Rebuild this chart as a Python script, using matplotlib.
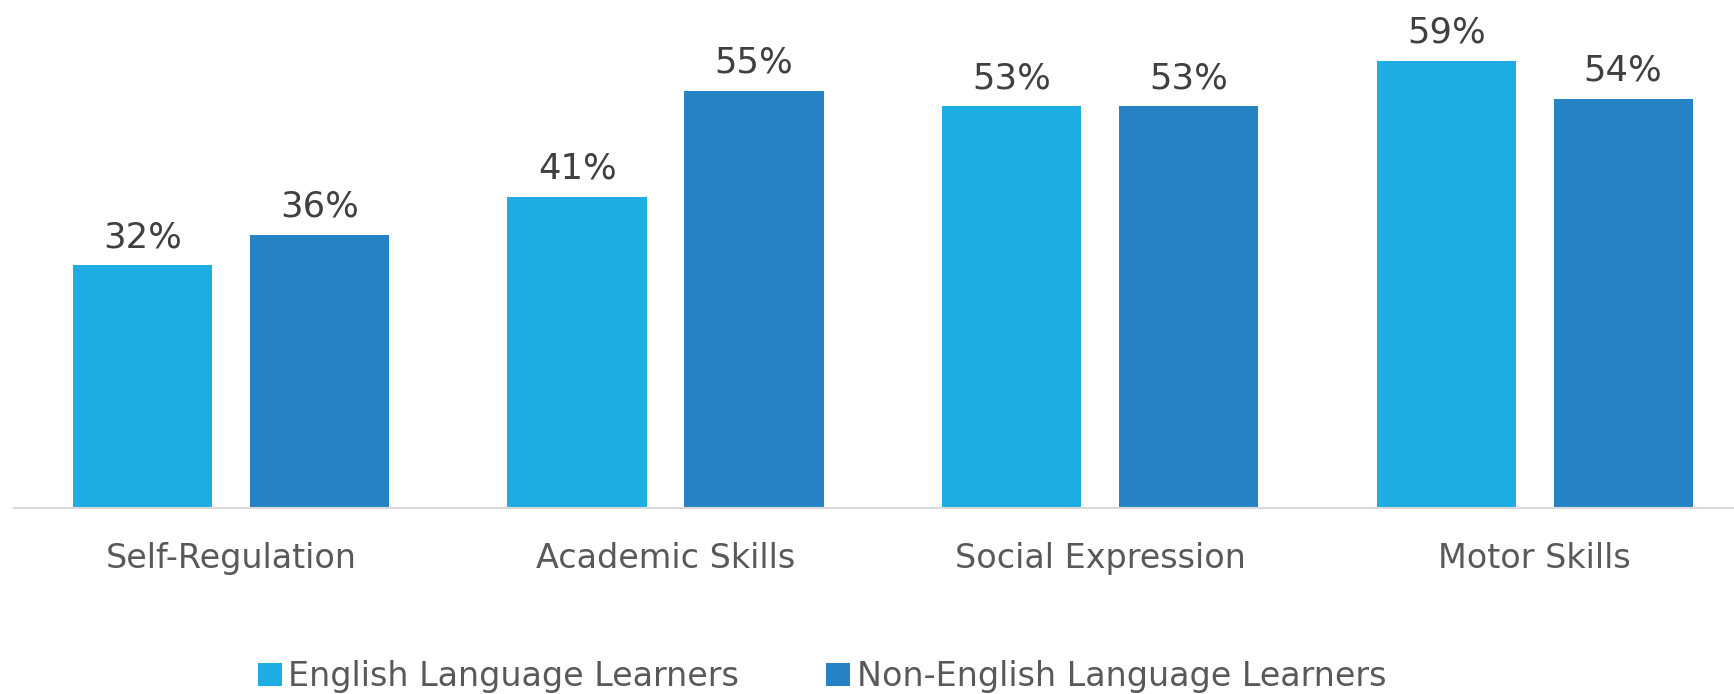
import matplotlib.pyplot as plt
import numpy as np

categories = ["Self-Regulation", "Academic Skills", "Social Expression", "Motor Skills"]
ell_values = [32, 41, 53, 59]
non_ell_values = [36, 55, 53, 54]
series_names = ["English Language Learners", "Non-English Language Learners"]

ELL_COLOR = "#1EADE3"
NON_ELL_COLOR = "#2683C6"

plt.rcParams["font.family"] = ["DejaVu Sans"]

fig = plt.figure(figsize=(17.34, 6.94), dpi=100)
# plot area runs slightly past the right edge, like the original slide crop
ax = fig.add_axes([0.0079, 0.2686, 1.0025, 0.6549])

x = np.arange(len(categories))
width = 0.3205
offset = 0.2035

bars_ell = ax.bar(x - offset, ell_values, width, color=ELL_COLOR, label=series_names[0])
bars_non = ax.bar(x + offset, non_ell_values, width, color=NON_ELL_COLOR, label=series_names[1])

for bars in (bars_ell, bars_non):
    for b in bars:
        ax.annotate(f"{b.get_height():.0f}%",
                    (b.get_x() + b.get_width() / 2, b.get_height()),
                    xytext=(0, 8), textcoords="offset points",
                    ha="center", va="bottom", fontsize=25.5, color="#404040",
                    annotation_clip=False)

ax.set_xlim(-0.5, len(categories) - 0.5)
ax.set_ylim(0, 60)
ax.set_yticks([])
ax.set_xticks(x)
ax.set_xticklabels(categories, fontsize=24, color="#595959")
ax.tick_params(axis="x", length=0, pad=25)

for side in ("top", "left", "right"):
    ax.spines[side].set_visible(False)
ax.spines["bottom"].set_color("#D9D9D9")
ax.spines["bottom"].set_linewidth(1.5)

fig.legend(handles=[bars_ell, bars_non], labels=series_names,
           loc="center", bbox_to_anchor=(0.474, 0.025), ncol=2, frameon=False,
           fontsize=24, labelcolor="#595959", handlelength=0.72, handleheight=0.72,
           handletextpad=0.2, columnspacing=2.6, borderaxespad=0, borderpad=0)

fig.savefig("out.png", dpi=100)
